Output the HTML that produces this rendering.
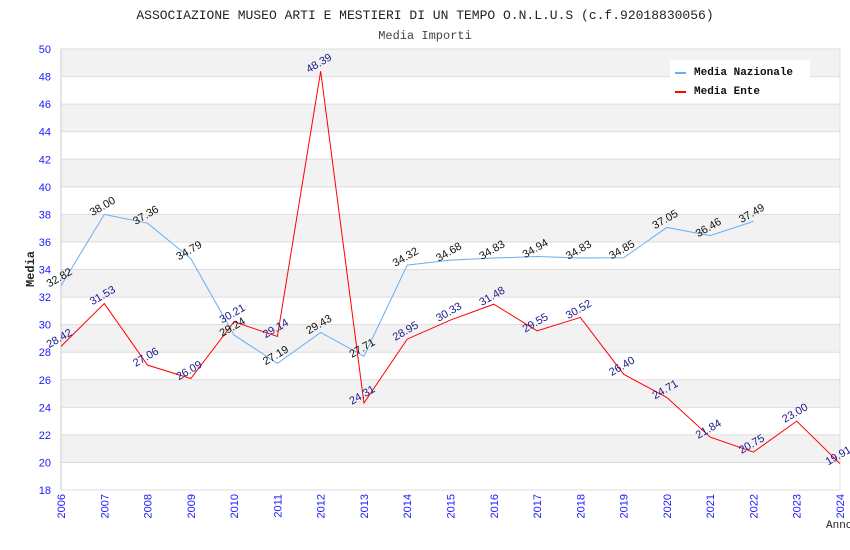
<!DOCTYPE html>
<html><head><meta charset="utf-8"><style>
body{margin:0;background:#fff}
svg{display:block}
</style></head><body>
<svg id="chart" width="850" height="550" xmlns="http://www.w3.org/2000/svg">
<text x="425" y="19" text-anchor="middle" font-family="Liberation Mono, monospace" font-size="13" fill="#222">ASSOCIAZIONE MUSEO ARTI E MESTIERI DI UN TEMPO O.N.L.U.S (c.f.92018830056)</text>
<text x="425" y="39" text-anchor="middle" font-family="Liberation Mono, monospace" font-size="12" fill="#444">Media Importi</text>
<g id="grid"></g>
<g id="series"></g>
<g id="labels"></g>
<text x="34" y="269" transform="rotate(-90 34 269)" text-anchor="middle" font-family="Liberation Mono, monospace" font-size="12" font-weight="bold" fill="#222">Media</text>
<text x="826" y="528" font-family="Liberation Mono, monospace" font-size="11" fill="#222">Anno</text>
<g>
<rect x="670" y="60" width="140" height="40" fill="#fff"/>
<g>
<rect x="675" y="72" width="11" height="2" fill="#6aaef0"/>
<text x="694" y="75" font-family="Liberation Mono, monospace" font-size="11" font-weight="bold" fill="#111">Media Nazionale</text>
</g>
<g>
<rect x="675" y="91" width="11" height="2" fill="#f00"/>
<text x="694" y="94" font-family="Liberation Mono, monospace" font-size="11" font-weight="bold" fill="#111">Media Ente</text>
</g>
</g>
</svg>
<script>
const years = [2006,2007,2008,2009,2010,2011,2012,2013,2014,2015,2016,2017,2018,2019,2020,2021,2022,2023,2024];
const nazionale = [32.82,38.00,37.36,34.79,29.24,27.19,29.43,27.71,34.32,34.68,34.83,34.94,34.83,34.85,37.05,36.46,37.49];
const ente = [28.42,31.53,27.06,26.09,30.21,29.14,48.39,24.31,28.95,30.33,31.48,29.55,30.52,26.40,24.71,21.84,20.75,23.00,19.91];
const yTicks = [18,20,22,24,26,28,30,32,34,36,38,40,42,44,46,48,50];

const NS='http://www.w3.org/2000/svg';
const x0=61,x1=840,yTop=49,yBot=490,yMin=18,yMax=50;
const xs = i => x0 + (x1-x0)*i/(years.length-1);
const ys = v => yBot - (v-yMin)/(yMax-yMin)*(yBot-yTop);
function mk(tag,attrs,parent){const e=document.createElementNS(NS,tag);for(const k in attrs)e.setAttribute(k,attrs[k]);parent.appendChild(e);return e;}
const grid=document.getElementById('grid'),series=document.getElementById('series'),labels=document.getElementById('labels');
for(let i=0;i<yTicks.length-1;i++){
  if(i%2===1){
    const r=mk('rect',{x:x0,y:ys(yTicks[i+1]),width:x1-x0,height:ys(yTicks[i])-ys(yTicks[i+1]),fill:'#f2f2f2'},grid);
    
    
  }
}
yTicks.forEach(t=>{
  const l=mk('line',{x1:x0,x2:x1,y1:ys(t),y2:ys(t),stroke:'#ddd','stroke-width':1},grid);
  
  
  const tx=mk('text',{x:51,y:ys(t)+4,'text-anchor':'end','font-family':'Liberation Sans, sans-serif','font-size':11,fill:'#1a1aff'},grid);
  tx.textContent=t;
  
  
});
mk('line',{x1:x0,x2:x0,y1:yTop,y2:yBot,stroke:'#ccc'},grid);
mk('line',{x1:x1,x2:x1,y1:yTop,y2:yBot,stroke:'#ddd'},grid);
years.forEach((yr,i)=>{
  const x=xs(i);
  const tx=mk('text',{x:x+4,y:yBot+4,transform:`rotate(-90 ${x+4} ${yBot+4})`,'text-anchor':'end','font-family':'Liberation Sans, sans-serif','font-size':11,fill:'#1a1aff'},grid);
  tx.textContent=yr;
  
  
});
function drawSeries(vals,color,labelColor,name){
  const pts=vals.map((v,i)=>xs(i)+','+ys(v)).join(' ');
  const pl=mk('polyline',{points:pts,fill:'none',stroke:color,'stroke-width':1},series);
  
  
  vals.forEach((v,i)=>{
    const x=xs(i),y=ys(v)-5;
    const t=mk('text',{x:x,y:y,transform:`rotate(-30 ${x} ${y})`,'text-anchor':'middle','font-family':'Liberation Sans, sans-serif','font-size':11,fill:labelColor},labels);
    t.textContent=v.toFixed(2);
    
    
  });
}
drawSeries(nazionale,'#6aaef0','#111','nazionale');
drawSeries(ente,'#f00','#1a1a8c','ente');
</script>
</body></html>
